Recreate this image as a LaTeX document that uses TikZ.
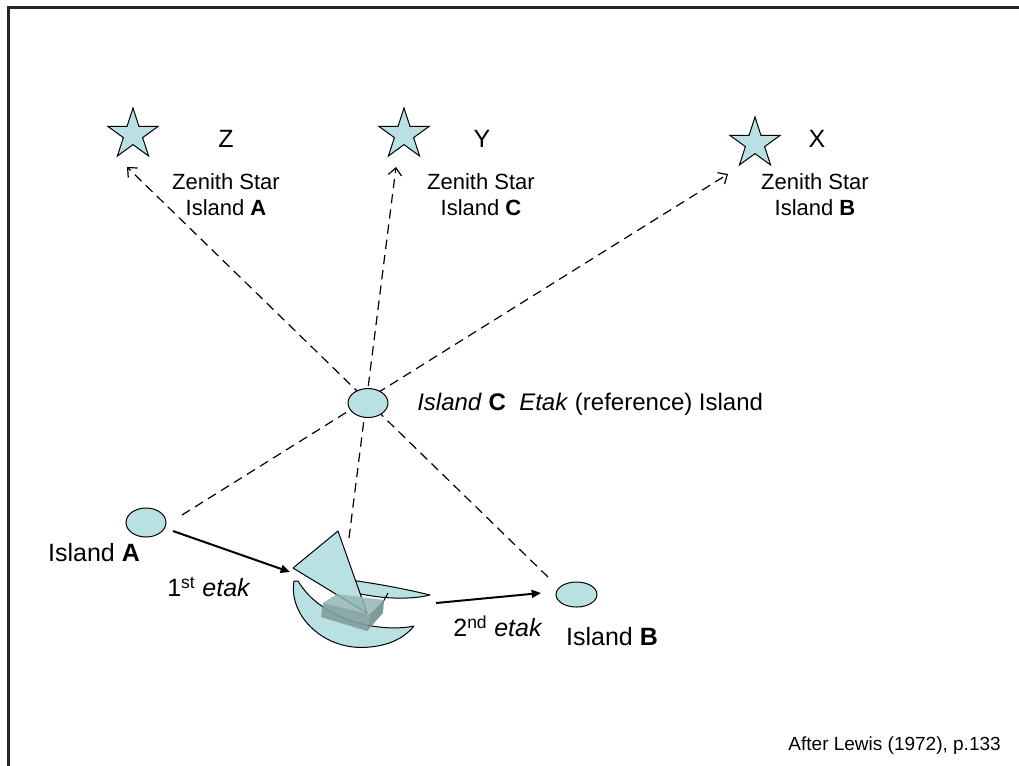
\documentclass[tikz,border=0pt]{standalone}
\usepackage{fontspec}
\setmainfont{Liberation Sans}
\usetikzlibrary{arrows.meta,shapes.geometric}
\definecolor{isle}{HTML}{B9E0E3}
\definecolor{decktop}{HTML}{93B5B5}
\definecolor{deckfront}{HTML}{809F9F}
\definecolor{deckside}{HTML}{6F9090}
\begin{document}
\begin{tikzpicture}[x=0.75pt,y=-0.75pt,
  island/.style={ellipse, draw, fill=isle, line width=0.75pt, inner sep=0pt,
                 minimum width=30pt, minimum height=21.75pt},
  zstar/.style={star, star points=5, star point ratio=2.618, draw, fill=isle,
                line width=0.75pt, inner sep=0pt, minimum size=39.75pt},
  sight/.style={dash pattern=on 7pt off 4.5pt, line width=0.9pt,
                -{Straight Barb[length=5.5pt,width=10pt]}},
  etakarrow/.style={line width=1.5pt, -{Triangle[length=7pt,width=6pt]}},
  boatpart/.style={draw, fill=isle, line width=0.75pt, line join=round},
  starlbl/.style={font=\fontsize{16.5}{19.5}\selectfont, align=center, inner sep=0pt},
  starletter/.style={font=\fontsize{18.75}{22}\selectfont, inner sep=0pt},
  biglbl/.style={font=\fontsize{18.75}{22}\selectfont, inner sep=0pt},
]
\useasboundingbox (0,0) rectangle (1019,765);
\clip (0,0) rectangle (1019,765);

% frame
\draw[line width=2pt, black!85] (8.7,7.2) rectangle (1040,790);

% zenith stars
\node[zstar] (sZ) at (133,134.5) {};
\node[zstar] (sY) at (404,134.5) {};
\node[zstar] (sX) at (755,143.5) {};

% sight-line end points
\coordinate (tZ) at (127,167);
\coordinate (tY) at (396,167);
\coordinate (tX) at (728,174);
\coordinate (fA) at (182,515);
\coordinate (fB) at (548,577);
\coordinate (fBoat) at (349,538);

% sight lines through the reference island
\draw[sight] (fA) -- (tX);
\draw[sight] (fB) -- (tZ);
\draw[sight] (fBoat) -- (tY);

% islands
\node[island] (C) at (368,403) {};
\node[island] (A) at (146,522.5) {};
\node[island, minimum width=30.75pt, minimum height=18.75pt] (B) at (576.5,594.5) {};

% canoe: outrigger, hull, sail, strut, deck box
\path[boatpart] (350,580) .. controls (380,584) and (410,590) .. (430,595)
  .. controls (410,600) and (380,599) .. (352,592) -- cycle;
\path[boatpart] (294,581) .. controls (288,616) and (325,652) .. (370,647)
  .. controls (392,645) and (406,636) .. (414,626)
  .. controls (380,633) and (322,621) .. (298,581) -- cycle;
\path[boatpart] (293,568) -- (338,531) -- (367,613) -- cycle;
\draw[line width=0.75pt] (388,593) -- (382,604);
\fill[decktop, fill opacity=0.85] (323,603) -- (337,594) -- (384,600) -- (370,614) -- cycle;
\fill[deckfront, fill opacity=0.9] (323,603) -- (370,614) -- (367,631) -- (321,617) -- cycle;
\fill[deckside, fill opacity=0.9] (370,614) -- (384,600) -- (383,613) -- (367,631) -- cycle;

% etak legs
\coordinate (e1s) at (173,531);
\coordinate (e1e) at (290,572);
\coordinate (e2s) at (436,603);
\coordinate (e2e) at (541,593);
\draw[etakarrow] (e1s) -- (e1e);
\draw[etakarrow] (e2s) -- (e2e);

% star labels
\node[starletter] (lZ) at (226,139) {Z};
\node[starletter] (lY) at (482,139) {Y};
\node[starletter] (lX) at (817,139) {X};
\node[starlbl] (nZ) at (226,195) {Zenith Star\\Island \textbf{A}};
\node[starlbl] (nY) at (481,195) {Zenith Star\\Island \textbf{C}};
\node[starlbl] (nX) at (815,195) {Zenith Star\\Island \textbf{B}};

% island and leg labels
\node[biglbl, font=\fontsize{18}{22}\selectfont, anchor=west] (lC) at (417,404) {\textit{Island} \textbf{C}\ \ \textit{Etak} (reference) Island};
\node[biglbl] (lA) at (94,553) {Island \textbf{A}};
\node[biglbl] (lB) at (612,637) {Island \textbf{B}};
\node[biglbl] (l1) at (209,587) {1\textsuperscript{st} \textit{etak}};
\node[biglbl] (l2) at (498,626) {2\textsuperscript{nd} \textit{etak}};

% source
\node[font=\fontsize{14.25}{17}\selectfont, anchor=east, inner sep=0pt] (src) at (1001,746) {After Lewis (1972), p.133};
\end{tikzpicture}
\end{document}
